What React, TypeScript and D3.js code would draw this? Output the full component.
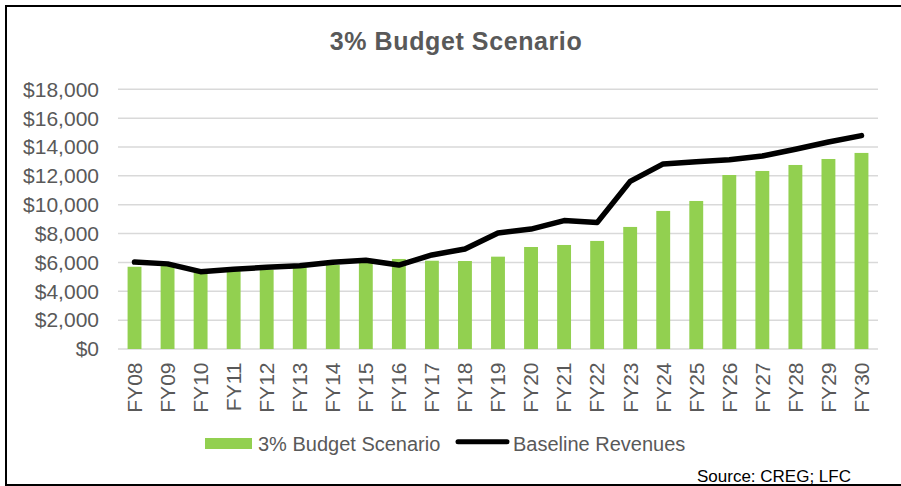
import React from "react";
import * as d3 from "d3";

const categories = ["FY08","FY09","FY10","FY11","FY12","FY13","FY14","FY15","FY16","FY17","FY18","FY19","FY20","FY21","FY22","FY23","FY24","FY25","FY26","FY27","FY28","FY29","FY30"];
const budgetScenario = [5700, 5950, 5300, 5400, 5500, 5650, 5820, 5980, 6240, 6120, 6100, 6400, 7070, 7210, 7490, 8460, 9570, 10260, 12060, 12340, 12755, 13170, 13590];
const baselineRevenues = [6030, 5900, 5360, 5520, 5660, 5770, 6010, 6150, 5820, 6520, 6930, 8040, 8310, 8900, 8760, 11620, 12830, 12985, 13120, 13380, 13840, 14350, 14790];
const yTicks = [0, 2000, 4000, 6000, 8000, 10000, 12000, 14000, 16000, 18000];
const title = "3% Budget Scenario";
const seriesNames = ["3% Budget Scenario", "Baseline Revenues"];
const sourceNote = "Source: CREG; LFC";

const W = 901, H = 486;
const FONT = "'Liberation Sans', Arial, sans-serif";
const GRAY = "#595959";
const GREEN = "#92d050";

export default function App() {
  const x = d3.scaleBand<string>().domain(categories).range([118, 878]).paddingInner(0.58).paddingOuter(0.29);
  const y = d3.scaleLinear().domain([0, 18000]).range([349, 89.3]);
  const fmt = (v: number) => "$" + d3.format(",")(v);
  const line = d3.line<number>()
    .x((_, i) => (x(categories[i]) as number) + x.bandwidth() / 2)
    .y((d) => y(d));

  return (
    <svg width={W} height={H} style={{ position: "absolute", left: 0, top: 0, background: "#fff" }} fontFamily={FONT}>
      <rect x={0} y={0} width={W} height={H} fill="#fff" />
      <text x={456} y={50} textAnchor="middle" fontSize={25} fontWeight="bold" fill={GRAY} letterSpacing={0.6}>{title}</text>
      {yTicks.map((t) => (
        <g key={t}>
          <line x1={118} x2={878} y1={y(t)} y2={y(t)} stroke="#d9d9d9" strokeWidth={1.5} />
          <text x={99} y={y(t)} dy="0.35em" textAnchor="end" fontSize={21} fill={GRAY}>{fmt(t)}</text>
        </g>
      ))}
      {categories.map((c, i) => (
        <rect key={c} x={x(c)} y={y(budgetScenario[i])} width={x.bandwidth()} height={y(0) - y(budgetScenario[i])} fill={GREEN} />
      ))}
      <path d={line(baselineRevenues) || ""} fill="none" stroke="#000" strokeWidth={5.5} strokeLinejoin="round" strokeLinecap="round" />
      {categories.map((c) => (
        <text key={c} transform={`translate(${(x(c) as number) + x.bandwidth() / 2},362.5) rotate(-90)`} textAnchor="end" dy="0.35em" fontSize={21} fill={GRAY}>{c}</text>
      ))}
      <rect x={205} y={438} width={47} height={11} fill={GREEN} />
      <text x={258} y={451} fontSize={20} fill={GRAY}>{seriesNames[0]}</text>
      <line x1={458} x2={507} y1={441.7} y2={441.7} stroke="#000" strokeWidth={5} strokeLinecap="round" />
      <text x={513} y={451} fontSize={20} fill={GRAY}>{seriesNames[1]}</text>
      <text x={697} y={482} fontSize={17} fill="#000">{sourceNote}</text>
      <path d={`M6,486 V6 H901 M5,485 H901`} fill="none" stroke="#000" strokeWidth={2} />
    </svg>
  );
}
